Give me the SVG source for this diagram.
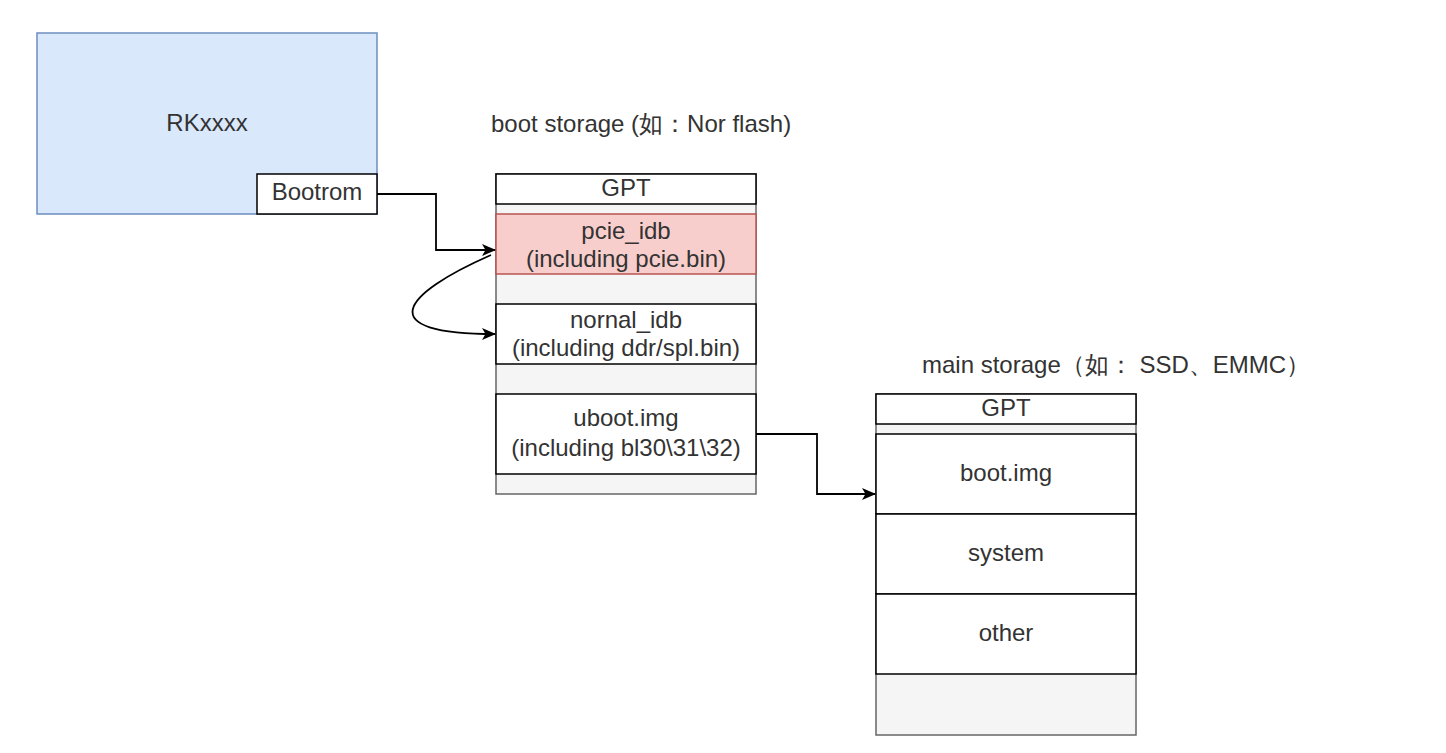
<svg xmlns="http://www.w3.org/2000/svg" width="1446" height="753" viewBox="0 0 1446 753">
  <style>
    text { font-family: "Liberation Sans", Arial, sans-serif; font-size: 24px; fill: #333333; }
    .c { text-anchor: middle; }
    .box { fill: #ffffff; stroke: #000000; stroke-width: 1.5; }
    .cont { fill: #f5f5f5; stroke: #666666; stroke-width: 1.5; }
    .edge { fill: none; stroke: #000000; stroke-width: 1.8; }
  </style>
  <defs>
    <marker id="arrow" markerUnits="userSpaceOnUse" markerWidth="14" markerHeight="12" viewBox="0 0 14 12" refX="13" refY="6" orient="auto">
      <path d="M0,0 L14,6 L0,12 L3.5,6 Z" fill="#000000"/>
    </marker>
  </defs>
  <rect x="0" y="0" width="1446" height="753" fill="#ffffff"/>

  <g id="rkxxxx">
    <rect x="37" y="33" width="340" height="181" fill="#dae8fc" stroke="#6c8ebf" stroke-width="1.5"/>
    <text class="c" x="207" y="131">RKxxxx</text>
  </g>
  <g id="bootrom">
    <rect class="box" x="257" y="174" width="120" height="40"/>
    <text class="c" x="317" y="200">Bootrom</text>
  </g>

  <g id="boot-storage-title">
    <text x="491" y="132">boot storage (如：Nor flash)</text>
  </g>
  <g id="boot-storage">
    <rect class="cont" x="496" y="174" width="260" height="320"/>
  </g>
  <g id="boot-gpt">
    <rect class="box" x="496" y="174" width="260" height="30"/>
    <text class="c" x="626" y="196">GPT</text>
  </g>
  <g id="pcie-idb">
    <rect x="496" y="214" width="260" height="60" fill="#f8cecc" stroke="#b85450" stroke-width="1.5"/>
    <text class="c" x="626" y="239">pcie_idb</text>
    <text class="c" x="626" y="267">(including pcie.bin)</text>
  </g>
  <g id="nornal-idb">
    <rect class="box" x="496" y="304" width="260" height="60"/>
    <text class="c" x="626" y="328">nornal_idb</text>
    <text class="c" x="626" y="356">(including ddr/spl.bin)</text>
  </g>
  <g id="uboot-img">
    <rect class="box" x="496" y="394" width="260" height="80"/>
    <text class="c" x="626" y="426">uboot.img</text>
    <text class="c" x="626" y="456">(including bl30\31\32)</text>
  </g>

  <g id="main-storage-title">
    <text x="922" y="373">main storage（如： SSD、EMMC）</text>
  </g>
  <g id="main-storage">
    <rect class="cont" x="876" y="394" width="260" height="341"/>
  </g>
  <g id="main-gpt">
    <rect class="box" x="876" y="394" width="260" height="30"/>
    <text class="c" x="1006" y="416">GPT</text>
  </g>
  <g id="boot-img">
    <rect class="box" x="876" y="434" width="260" height="80"/>
    <text class="c" x="1006" y="481">boot.img</text>
  </g>
  <g id="system">
    <rect class="box" x="876" y="514" width="260" height="80"/>
    <text class="c" x="1006" y="561">system</text>
  </g>
  <g id="other">
    <rect class="box" x="876" y="594" width="260" height="80"/>
    <text class="c" x="1006" y="641">other</text>
  </g>

  <g id="connectors">
    <path class="edge" d="M377,194 H436 V250 H495" marker-end="url(#arrow)"/>
    <path class="edge" d="M491,255 C400,295 372,334 495,334" marker-end="url(#arrow)"/>
    <path class="edge" d="M756,434 H817 V494 H875" marker-end="url(#arrow)"/>
  </g>
</svg>
